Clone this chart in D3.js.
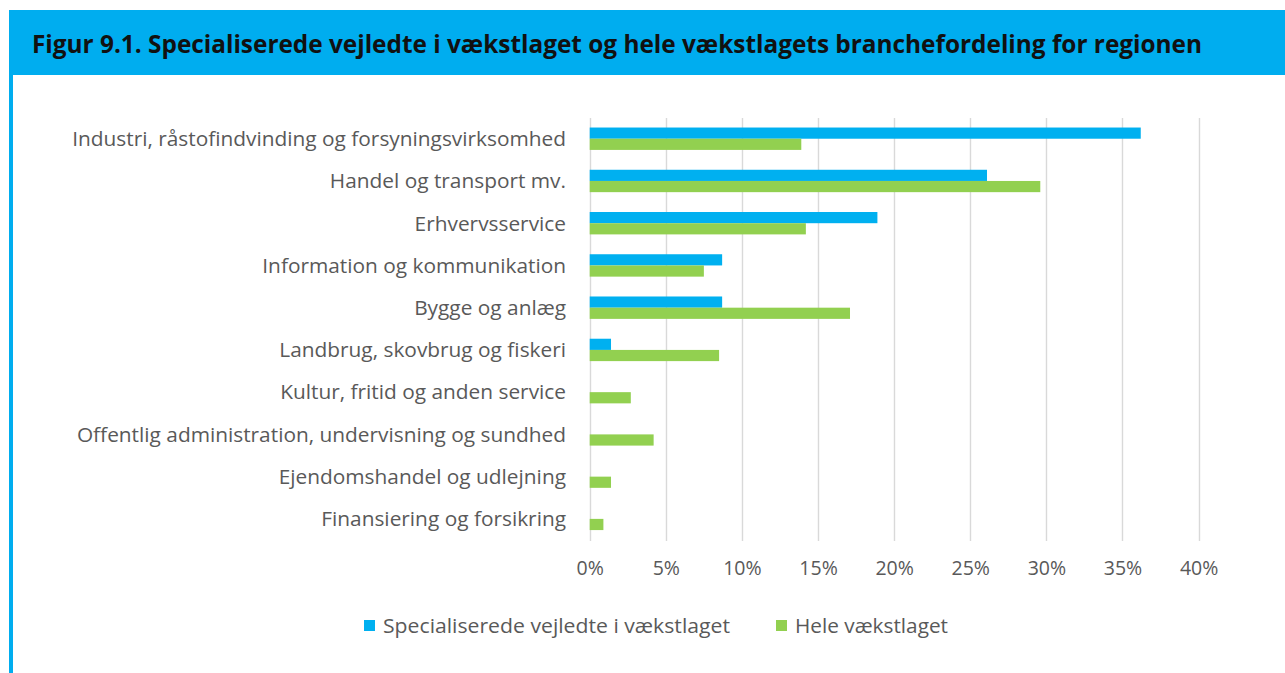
<!DOCTYPE html>
<html>
<head>
<meta charset="utf-8">
<script src="https://cdn.jsdelivr.net/npm/d3@7"></script>
<style>
  html, body { margin: 0; padding: 0; background: #fff; }
  svg { display: block; }
</style>
</head>
<body>
<svg id="chart" width="1285" height="673"></svg>
<script>
const title = "Figur 9.1. Specialiserede vejledte i vækstlaget og hele vækstlagets branchefordeling for regionen";
const categories = [
  "Industri, råstofindvinding og forsyningsvirksomhed",
  "Handel og transport mv.",
  "Erhvervsservice",
  "Information og kommunikation",
  "Bygge og anlæg",
  "Landbrug, skovbrug og fiskeri",
  "Kultur, fritid og anden service",
  "Offentlig administration, undervisning og sundhed",
  "Ejendomshandel og udlejning",
  "Finansiering og forsikring"
];
const seriesNames = ["Specialiserede vejledte i vækstlaget", "Hele vækstlaget"];
const specialiserede = [36.2, 26.1, 18.9, 8.7, 8.7, 1.4, 0, 0, 0, 0];
const heleVaekstlaget = [13.9, 29.6, 14.2, 7.5, 17.1, 8.5, 2.7, 4.2, 1.4, 0.9];
const tickValues = [0, 5, 10, 15, 20, 25, 30, 35, 40];
const colors = ["#00B0F0", "#92D050"];

const svg = d3.select("#chart");
const FONT = "'Open Sans', 'Noto Sans', sans-serif";

// frame
svg.append("rect").attr("x", 9).attr("y", 10).attr("width", 1276).attr("height", 65).attr("fill", "#00ADEF");
svg.append("rect").attr("x", 9).attr("y", 75).attr("width", 4).attr("height", 598).attr("fill", "#00ADEF");

svg.append("text")
  .attr("x", 32).attr("y", 52.5)
  .attr("font-family", FONT).attr("font-weight", 700).attr("font-size", 25)
  .attr("fill", "#111")
  .attr("textLength", 1170).attr("lengthAdjust", "spacingAndGlyphs")
  .text(title);

const x = d3.scaleLinear().domain([0, 40]).range([589.7, 1198.6]);
const y = d3.scaleBand().domain(categories).range([117.6, 540]).paddingInner(0.47).paddingOuter(0.235);
const ySub = d3.scaleBand().domain([0, 1]).range([0, y.bandwidth()]);

// gridlines
svg.append("g")
  .selectAll("line").data(tickValues).join("line")
  .attr("x1", d => Math.round(x(d)) + 0.5).attr("x2", d => Math.round(x(d)) + 0.5)
  .attr("y1", 118).attr("y2", 541)
  .attr("stroke", "#D9D9D9").attr("stroke-width", 1.4);

// bars
const rows = categories.map((c, i) => ({ c, v: [specialiserede[i], heleVaekstlaget[i]] }));
const g = svg.append("g");
rows.forEach(r => {
  r.v.forEach((v, j) => {
    if (v <= 0) return;
    g.append("rect")
      .attr("x", x(0))
      .attr("y", y(r.c) + ySub(j))
      .attr("width", x(v) - x(0))
      .attr("height", ySub.bandwidth())
      .attr("fill", colors[j]);
  });
});

// x axis tick labels
const xAxis = d3.axisBottom(x).tickValues(tickValues).tickFormat(d => d + "%").tickSize(0).tickPadding(0);
const ax = svg.append("g").attr("transform", "translate(0,561)").call(xAxis);
ax.select(".domain").remove();
ax.selectAll("text").attr("font-family", FONT).attr("font-size", 19.5).attr("fill", "#595959").attr("dy", "0.71em");

// y axis labels
const yAxis = d3.axisLeft(y).tickSize(0).tickPadding(0);
const ay = svg.append("g").attr("transform", "translate(566,0)").call(yAxis);
ay.select(".domain").remove();
ay.selectAll("text").attr("font-family", FONT).attr("font-size", 19).attr("fill", "#595959").attr("dy", "0.35em");
// fit the longest label to reference width
const longest = ay.selectAll("text").filter(d => d === categories[0]).node();
const w0 = longest.getComputedTextLength();
const fs = 19 * 494 / w0;
ay.selectAll("text").attr("font-size", fs);

// legend
const legend = svg.append("g");
const legendItems = [{ x: 364, tx: 383, w: 347 }, { x: 776, tx: 795, w: 153 }];
seriesNames.forEach((n, i) => {
  legend.append("rect").attr("x", legendItems[i].x).attr("y", 620).attr("width", 11).attr("height", 11).attr("fill", colors[i]);
  legend.append("text").attr("x", legendItems[i].tx).attr("y", 626).attr("dy", "0.35em")
    .attr("font-family", FONT).attr("font-size", fs).attr("fill", "#595959")
    .attr("textLength", legendItems[i].w).attr("lengthAdjust", "spacingAndGlyphs")
    .text(n);
});
</script>
</body>
</html>
